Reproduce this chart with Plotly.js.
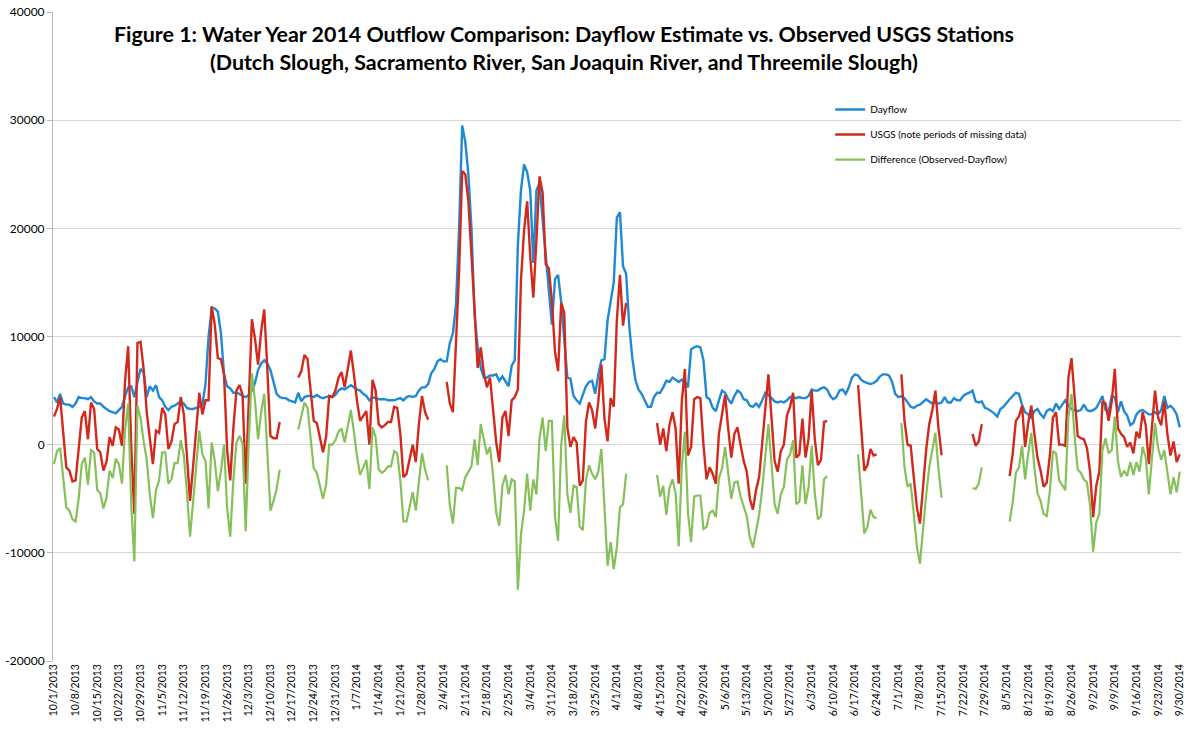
<!DOCTYPE html>
<html>
<head>
<meta charset="utf-8">
<script src="https://cdn.plot.ly/plotly-3.0.1.min.js"></script>
<style>html,body{margin:0;padding:0;background:#fff;}#chart{width:1188px;height:732px;}</style>
</head>
<body>
<div id="chart"></div>
<script>
const N = null;

// Day index 0 = 10/1/2013 ... 364 = 9/30/2014
const dayflow = [
4400,3900,4700,3800,3700,3700,3500,3800,4400,4300,
4300,4200,4400,4000,3800,3800,3500,3300,3100,3000,
2900,3200,3500,4500,5300,5400,4400,5800,7000,6700,
4400,5400,5000,5500,4400,4100,3500,3200,3500,3600,
3800,4000,3800,3400,3300,3300,3400,3500,3700,5600,
10000,12600,12600,12300,10300,6500,5400,5200,4800,4800,
4700,4500,4400,4600,5000,5700,6900,7500,7800,7500,
6900,5800,4700,4400,4300,4300,4100,4000,3900,4800,
4000,4400,4500,4500,4400,4600,4400,4300,4400,4500,
4400,4600,5000,5200,5100,5300,5500,5300,5100,5000,
4700,4500,4100,4400,4300,4200,4200,4200,4100,4100,
4100,4200,4300,4100,4400,4500,4400,4500,5000,5300,
5300,5600,6600,7000,7700,7900,7700,7700,9400,10300,
13000,20000,29500,28000,25000,20000,12000,9000,7100,6200,
6200,6400,6400,6500,5900,6300,5900,5400,7300,7800,
18500,23500,25900,25200,23500,16800,23500,24200,20800,17300,
14100,11100,15300,15700,13200,9500,6200,6100,4500,4100,
3800,4600,5400,5800,5900,4700,6500,7800,7900,11500,
13300,15000,21000,21500,16500,15800,11000,8000,6000,5100,
4700,4100,3500,3500,4400,4800,4800,5300,5900,5800,
6200,6000,5800,6000,5800,5300,8800,9000,9100,9000,
7800,4400,4200,3400,3100,4100,5000,4800,4200,3800,
4500,5000,4800,4200,4100,3600,3500,3800,3500,4100,
4800,4600,4300,4000,3900,4000,3900,4100,4400,4400,
4300,4400,4300,4300,4500,5100,5000,5000,5200,5300,
5100,4500,4200,4400,5000,5100,4700,5300,6200,6500,
6400,6000,5800,5700,5600,5700,5900,6300,6500,6500,
6400,5800,4700,4400,4500,4300,3900,3500,3400,3600,
3700,4000,4200,4000,3800,3900,3800,3900,4400,3900,
3900,4300,4100,4100,4500,4700,4800,5000,4000,3900,
4000,3400,3300,3100,2900,2600,3300,3500,3900,4200,
4500,4800,4700,3700,3000,2800,2500,3100,3300,2800,
2500,3100,3300,3100,3800,3300,3700,4100,3600,3300,
3200,3100,3200,3700,3200,3100,3200,3400,3900,4500,
3200,3000,4500,4400,3000,4000,3100,2700,1800,2000,
2800,3100,3200,3000,2800,2800,3000,2800,3200,4500,
3400,3600,3300,2800,1600];

const usgs = [
2600,3300,4400,1000,-2100,-2400,-3400,-3300,-600,2500,
3100,500,3900,3300,-400,-700,-2400,-1600,700,-100,
1600,1400,-100,5900,9100,-200,-6400,9400,9500,7000,
3000,800,-1800,1300,1100,3400,2800,-400,300,1900,
2100,4400,2800,-1000,-5200,-2000,1800,4800,2800,4100,
4100,12800,11100,8000,7900,6500,-500,-3300,1500,5000,
5500,4600,-3600,5000,11600,9800,7400,10500,12500,7000,
800,600,600,2100,N,N,N,N,N,6200,
6800,8300,7900,5000,2200,2000,700,-700,700,4500,
4400,5000,6200,6700,5300,7000,8700,6500,4000,2200,
2600,3100,0,6000,5000,1900,1600,1800,2100,2100,
3500,3400,1000,-3000,-2700,-1200,0,-1600,1900,4500,
3000,2300,N,N,N,N,N,5800,3800,3000,
9000,16000,25300,25000,22500,18000,12500,7100,9000,6600,
5300,6200,3500,200,-1600,2500,3100,800,4100,4400,
5100,15200,19800,22500,17400,13600,18900,24800,23300,16700,
16300,13300,8600,6800,13100,12200,1600,-200,700,200,
-3800,-3300,2100,3900,3200,1500,4000,7400,2400,300,
4300,3500,11500,15700,11000,13100,N,N,N,N,
N,N,N,N,N,2000,0,1500,-600,1800,
3000,1500,-3600,4000,7000,-1000,-200,4200,4400,4300,
0,-3200,-2100,-2700,-3600,1000,2800,4600,1500,-1200,
1000,1600,0,-1500,-2500,-5000,-6000,-4200,-3000,0,
3500,6500,2500,-1500,-2500,-600,0,2700,3500,4800,
-1200,-900,2400,-1200,600,5000,500,-1900,-1400,2100,
2200,N,N,N,N,N,N,N,N,N,
5500,1600,-2400,-1900,-400,-1000,-900,N,N,N,
N,N,N,N,6500,2200,0,-100,-3000,-5800,
-7300,-3500,-500,1900,3200,5000,1500,-1000,N,N,
N,N,N,N,N,N,N,1000,-100,300,
1900,N,N,N,N,N,N,N,N,-2900,
-800,2200,2600,3600,-200,2000,3600,1000,-1200,-2400,
-3900,-3500,-1000,2500,3000,0,0,-100,6200,8000,
4000,800,600,500,-300,-2500,-6700,-3800,-2500,4000,
3800,2200,4000,7000,1500,1000,700,-200,200,-800,
1200,600,3000,1800,-1800,1300,5000,2500,1800,4000,
1000,-1000,300,-1600,-900];

const difference = [
-1800,-600,-300,-2800,-5800,-6100,-6900,-7100,-5000,-1800,
-1200,-3700,-500,-700,-4200,-4500,-5900,-4900,-2400,-3100,
-1300,-1800,-3600,1400,3800,-5600,-10800,3600,2500,300,
-1400,-4600,-6800,-4200,-3300,-700,-700,-3600,-3200,-1700,
-1700,400,-1000,-4400,-8500,-5300,-1600,1300,-900,-1500,
-5900,200,-1500,-4300,-2400,0,-5900,-8500,-3300,200,
800,100,-8000,400,6600,4100,500,3000,4700,-500,
-6100,-5200,-4100,-2300,N,N,N,N,N,1400,
2800,3900,3400,500,-2200,-2600,-3700,-5000,-3700,0,
0,400,1200,1500,200,1700,3200,1200,-1100,-2800,
-2100,-1400,-4100,1600,700,-2300,-2600,-2400,-2000,-2000,
-600,-800,-3300,-7100,-7100,-5700,-4400,-6100,-3100,-800,
-2300,-3300,N,N,N,N,N,-1900,-5600,-7300,
-4000,-4000,-4200,-3000,-2500,-2000,500,-1900,1900,400,
-900,-200,-2900,-6300,-7500,-3800,-2800,-4600,-3200,-3400,
-13400,-8300,-6100,-2700,-6100,-3200,-4600,600,2500,-600,
2200,2200,-6700,-8900,-100,2700,-4600,-6300,-3800,-3900,
-7600,-7900,-3300,-1900,-2700,-3200,-2500,-400,-5500,-11200,
-9000,-11500,-9500,-5800,-5500,-2700,N,N,N,N,
N,N,N,N,N,-2800,-4800,-3800,-6500,-4000,
-3200,-4500,-9400,-2000,1200,-6300,-9000,-4800,-4700,-4700,
-7800,-7600,-6300,-6100,-6700,-3100,-2200,-200,-2700,-5000,
-3500,-3400,-4800,-5700,-6600,-8600,-9500,-8000,-6500,-4100,
-1300,1900,-1800,-5500,-6400,-4600,-3900,-1400,-900,400,
-5500,-5300,-1900,-5500,-3900,-100,-4500,-6900,-6600,-3200,
-2900,N,N,N,N,N,N,N,N,N,
-900,-4400,-8200,-7600,-6000,-6700,-6800,N,N,N,
N,N,N,N,2000,-2100,-3900,-3600,-6400,-9400,
-11000,-7500,-4700,-2100,-600,1100,-2300,-4900,N,N,
N,N,N,N,N,N,N,-4000,-4100,-3600,
-2100,N,N,N,N,N,N,N,N,-7100,
-5300,-2600,-2100,-100,-3200,-800,1100,-2100,-4500,-5200,
-6400,-6600,-4300,-600,-800,-3300,-3700,-4200,2600,4700,
800,-2300,-2600,-3200,-3500,-5600,-9900,-7200,-6400,-500,
600,-800,-500,2600,-1500,-3000,-2400,-2900,-1600,-2800,
-1600,-2500,-200,-1200,-4600,-1500,2000,-300,-1400,-500,
-2400,-4600,-3000,-4400,-2500];

const xTickLabels = [
"10/1/2013","10/8/2013","10/15/2013","10/22/2013","10/29/2013","11/5/2013","11/12/2013",
"11/19/2013","11/26/2013","12/3/2013","12/10/2013","12/17/2013","12/24/2013","12/31/2013",
"1/7/2014","1/14/2014","1/21/2014","1/28/2014","2/4/2014","2/11/2014","2/18/2014",
"2/25/2014","3/4/2014","3/11/2014","3/18/2014","3/25/2014","4/1/2014","4/8/2014",
"4/15/2014","4/22/2014","4/29/2014","5/6/2014","5/13/2014","5/20/2014","5/27/2014",
"6/3/2014","6/10/2014","6/17/2014","6/24/2014","7/1/2014","7/8/2014","7/15/2014",
"7/22/2014","7/29/2014","8/5/2014","8/12/2014","8/19/2014","8/26/2014","9/2/2014",
"9/9/2014","9/16/2014","9/23/2014","9/30/2014"];

const yTickValues = [40000,30000,20000,10000,0,-10000,-20000];
const yTickLabels = ["40000","30000","20000","10000","0","-10000","-20000"];

const seriesNames = ["Dayflow","USGS (note periods of missing data)","Difference (Observed-Dayflow)"];

const days = dayflow.map((v,i)=>i);
const xTickVals = xTickLabels.map((t,i)=>i*7);
const minorTickVals = xTickLabels.map((t,i)=>i*7-0.5);

const traces = [
  {x:days, y:dayflow, name:seriesNames[0], type:'scatter', mode:'lines',
   line:{color:'#1f8ad3', width:2.4}, legendgroup:'a', connectgaps:false},
  {x:days, y:usgs, name:seriesNames[1], type:'scatter', mode:'lines',
   line:{color:'#d2291c', width:2.4}, legendgroup:'b', connectgaps:false},
  {x:days, y:difference, name:seriesNames[2], type:'scatter', mode:'lines',
   line:{color:'#86c05a', width:2.2}, legendgroup:'c', connectgaps:false}
];

const layout = {
  width:1188, height:732,
  margin:{l:53, r:7, t:12, b:71},
  paper_bgcolor:'#ffffff', plot_bgcolor:'#ffffff',
  font:{family:'Lato, Carlito, Calibri, sans-serif', color:'#000000'},
  title:{
    text:'<b>Figure 1: Water Year 2014 Outflow Comparison: Dayflow Estimate vs. Observed USGS Stations</b><br><b>(Dutch Slough, Sacramento River, San Joaquin River, and Threemile Slough)</b>',
    font:{size:21.4, color:'#000000'}, xref:'container', yref:'container',
    x:0.4747, xanchor:'center', y:0.943, yanchor:'top'
  },
  showlegend:true,
  legend:{x:0.689, y:0.872, xanchor:'left', yanchor:'top', font:{size:10},
          bgcolor:'rgba(255,255,255,0)', traceorder:'grouped', tracegroupgap:6},
  xaxis:{range:[-0.3,364.4], tickmode:'array', tickvals:xTickVals, ticktext:xTickLabels,
         tickangle:-90, tickfont:{size:10.5}, showgrid:false, zeroline:false,
         showline:false, ticks:'', fixedrange:true},
  xaxis2:{overlaying:'x', anchor:'free', position:0.3344, range:[-0.3,364.4],
          tickmode:'array', tickvals:minorTickVals, ticks:'outside', ticklen:4,
          tickcolor:'#bdbdbd', showline:true, linecolor:'#bdbdbd', linewidth:1,
          showticklabels:false, showgrid:false, zeroline:false, fixedrange:true},
  yaxis:{range:[-20000,40000], tickmode:'array', tickvals:yTickValues, ticktext:yTickLabels,
         showgrid:true, gridcolor:'#d6d6d6', gridwidth:1, zeroline:false,
         showline:true, linecolor:'#b8b8b8', linewidth:1, ticks:'outside', ticklen:5,
         tickcolor:'#b8b8b8', tickfont:{size:12}, fixedrange:true}
};

Plotly.newPlot('chart', traces, layout, {displayModeBar:false, staticPlot:true});
</script>
</body>
</html>
